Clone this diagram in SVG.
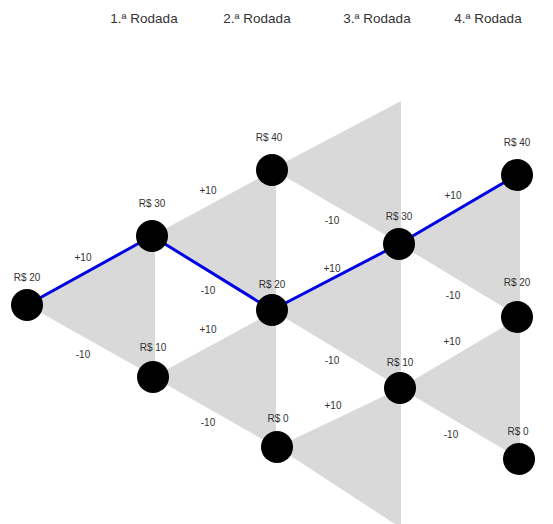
<svg xmlns="http://www.w3.org/2000/svg" width="553" height="524" viewBox="0 0 553 524">
<style>
.tri{fill:#d9d9d9;stroke:none}
.node{fill:#000}
.lbl{font-family:"Liberation Sans",Arial,sans-serif;font-size:10px;fill:#333;text-anchor:middle}
.hdr{font-family:"Liberation Sans",Arial,sans-serif;font-size:13.5px;fill:#333;text-anchor:middle}
.path{fill:none;stroke:#0000e6;stroke-width:3;stroke-linejoin:round}
</style>
<rect width="553" height="524" fill="#fff"/>
<g id="headers">
<text class="hdr" x="144" y="23">1.ª Rodada</text>
<text class="hdr" x="257" y="23">2.ª Rodada</text>
<text class="hdr" x="377" y="23">3.ª Rodada</text>
<text class="hdr" x="488" y="23">4.ª Rodada</text>
</g>
<g id="regions">
<polygon class="tri" points="27,305 155,236 155,377"/>
<polygon class="tri" points="152,236 276,169 276,310"/>
<polygon class="tri" points="153,377 276,310 276,447"/>
<polygon class="tri" points="272,169 401,101 401,244"/>
<polygon class="tri" points="272,310 401,244 401,388"/>
<polygon class="tri" points="277,447 401,388 401,528"/>
<polygon class="tri" points="399,244 520,175 520,317"/>
<polygon class="tri" points="400,388 520,317 520,459"/>
</g>
<g id="connectors">
<polyline class="path" points="27,305 152,236 272,310 399,244 517,175"/>
<text class="lbl" x="83" y="261">+10</text>
<text class="lbl" x="83" y="358">-10</text>
<text class="lbl" x="208" y="194">+10</text>
<text class="lbl" x="208" y="294">-10</text>
<text class="lbl" x="208" y="333">+10</text>
<text class="lbl" x="208" y="426">-10</text>
<text class="lbl" x="332" y="224">-10</text>
<text class="lbl" x="332" y="272">+10</text>
<text class="lbl" x="332" y="364">-10</text>
<text class="lbl" x="333" y="409">+10</text>
<text class="lbl" x="453" y="199">+10</text>
<text class="lbl" x="453" y="299">-10</text>
<text class="lbl" x="452" y="345">+10</text>
<text class="lbl" x="451" y="438">-10</text>
</g>
<g id="n0"><circle class="node" cx="27" cy="305" r="16"/><text class="lbl" x="27" y="281">R$ 20</text></g>
<g id="n1u"><circle class="node" cx="152" cy="236" r="16"/><text class="lbl" x="152" y="207">R$ 30</text></g>
<g id="n1d"><circle class="node" cx="153" cy="377" r="16"/><text class="lbl" x="153" y="351">R$ 10</text></g>
<g id="n2a"><circle class="node" cx="272" cy="170" r="16"/><text class="lbl" x="269" y="141">R$ 40</text></g>
<g id="n2b"><circle class="node" cx="272" cy="310" r="16"/><text class="lbl" x="272" y="288">R$ 20</text></g>
<g id="n2c"><circle class="node" cx="277" cy="447" r="16"/><text class="lbl" x="278" y="422">R$ 0</text></g>
<g id="n3a"><circle class="node" cx="399" cy="244" r="16"/><text class="lbl" x="399" y="220">R$ 30</text></g>
<g id="n3b"><circle class="node" cx="400" cy="388" r="16"/><text class="lbl" x="400" y="366">R$ 10</text></g>
<g id="n4a"><circle class="node" cx="517" cy="175" r="16"/><text class="lbl" x="517" y="146">R$ 40</text></g>
<g id="n4b"><circle class="node" cx="517" cy="317" r="16"/><text class="lbl" x="517" y="286">R$ 20</text></g>
<g id="n4c"><circle class="node" cx="519" cy="459" r="16"/><text class="lbl" x="518" y="435">R$ 0</text></g>
</svg>
